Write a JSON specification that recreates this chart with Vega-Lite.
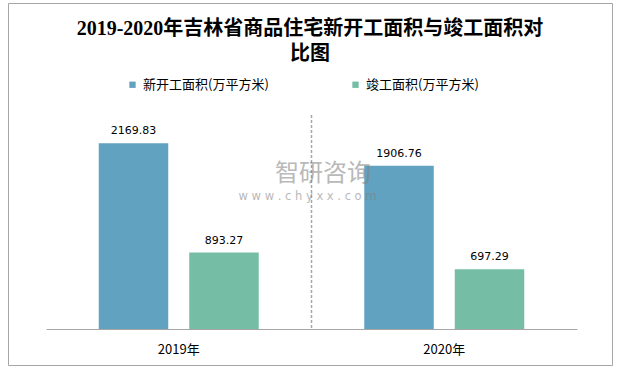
{
  "$schema": "https://vega.github.io/schema/vega-lite/v6.json",
  "width": 604,
  "height": 362,
  "autosize": "none",
  "padding": {"left": 8, "top": 3, "right": 5, "bottom": 6},
  "background": "white",
  "config": {
    "view": {"stroke": "#a6a6a6", "strokeWidth": 1},
    "font": "Noto Sans CJK SC"
  },
  "title": {
    "text": ["2019-2020年吉林省商品住宅新开工面积与竣工面积对", "比图"],
    "font": "Liberation Serif, Noto Sans CJK SC",
    "fontSize": 20,
    "fontWeight": "bold",
    "color": "#000000",
    "anchor": "middle",
    "lineHeight": 25,
    "baseline": "top",
    "offset": -61
  },
  "datasets": {
    "bars": [
      {"year": "2019年", "series": "新开工面积(万平方米)", "value": 2169.83},
      {"year": "2019年", "series": "竣工面积(万平方米)", "value": 893.27},
      {"year": "2020年", "series": "新开工面积(万平方米)", "value": 1906.76},
      {"year": "2020年", "series": "竣工面积(万平方米)", "value": 697.29}
    ],
    "sep": [{"year": "2020年", "top": 2500, "bottom": 0}],
    "wm1": [{"year": "2020年", "t": "智研咨询", "v": 1815}],
    "wm2": [{"year": "2020年", "t": "w w w . c h y x x . c o m", "v": 1545}]
  },
  "encoding": {
    "x": {
      "field": "year",
      "type": "nominal",
      "scale": {"type": "band", "range": [38, 569], "paddingInner": 0, "paddingOuter": 0},
      "axis": {
        "title": null,
        "ticks": false,
        "labelAngle": 0,
        "domainColor": "#a6a6a6",
        "labelFont": "Noto Sans CJK SC",
        "labelFontSize": 13,
        "labelColor": "#000000",
        "labelPadding": 14,
        "offset": -36,
        "grid": false
      }
    }
  },
  "layer": [
    {
      "data": {"name": "sep"},
      "mark": {"type": "rule", "color": "#a6a6a6", "strokeWidth": 1.5, "strokeDash": [3, 2]},
      "encoding": {
        "x": {"field": "year", "type": "nominal", "bandPosition": 0},
        "y": {"field": "top", "type": "quantitative", "scale": {"domain": [0, 2500], "range": [326, 112], "nice": false, "zero": true}, "axis": null},
        "y2": {"field": "bottom"}
      }
    },
    {
      "data": {"name": "bars"},
      "mark": {"type": "bar"},
      "encoding": {
        "xOffset": {"field": "series", "type": "nominal", "sort": ["新开工面积(万平方米)", "竣工面积(万平方米)"], "scale": {"paddingInner": 0.232, "paddingOuter": 0.583}},
        "y": {"field": "value", "type": "quantitative"},
        "color": {
          "field": "series",
          "type": "nominal",
          "scale": {"domain": ["新开工面积(万平方米)", "竣工面积(万平方米)"], "range": ["#62a2c1", "#76bda6"]},
          "legend": {
            "title": null,
            "orient": "none",
            "legendX": 118,
            "legendY": 75,
            "direction": "horizontal",
            "symbolType": "square",
            "symbolSize": 40,
            "symbolStrokeWidth": 0,
            "labelFont": "Noto Sans CJK SC",
            "labelFontSize": 13,
            "labelColor": "#000000",
            "labelOffset": 4,
            "columnPadding": 80,
            "labelLimit": 300
          }
        }
      }
    },
    {
      "data": {"name": "bars"},
      "mark": {"type": "text", "font": "DejaVu Sans", "fontSize": 11, "color": "#000000", "baseline": "middle", "dy": -12},
      "encoding": {
        "xOffset": {"field": "series", "type": "nominal", "sort": ["新开工面积(万平方米)", "竣工面积(万平方米)"]},
        "y": {"field": "value", "type": "quantitative"},
        "text": {"field": "value", "type": "quantitative", "format": ".2f"}
      }
    },
    {
      "data": {"name": "wm1"},
      "mark": {"type": "text", "font": "Noto Sans CJK SC", "fontSize": 24, "color": "#808080", "opacity": 0.55, "baseline": "middle", "align": "center", "dx": 11.5},
      "encoding": {
        "x": {"field": "year", "type": "nominal", "bandPosition": 0},
        "y": {"field": "v", "type": "quantitative"},
        "text": {"field": "t"}
      }
    },
    {
      "data": {"name": "wm2"},
      "mark": {"type": "text", "font": "DejaVu Sans", "fontSize": 11.5, "color": "#808080", "opacity": 0.55, "baseline": "middle", "align": "center", "dx": -4},
      "encoding": {
        "x": {"field": "year", "type": "nominal", "bandPosition": 0},
        "y": {"field": "v", "type": "quantitative"},
        "text": {"field": "t"}
      }
    }
  ]
}
